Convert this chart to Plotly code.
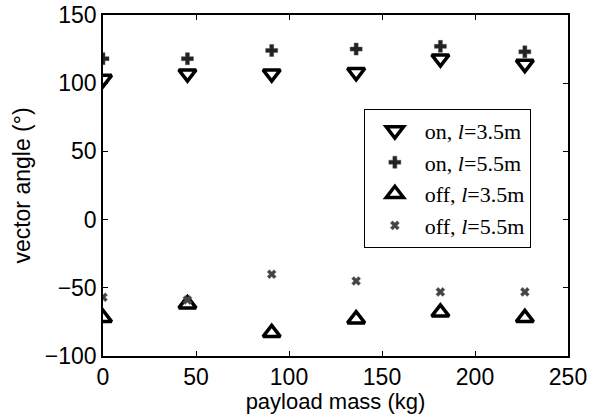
import plotly.graph_objects as go

# payload mass (kg): 0..500 lb in 100 lb steps
mass = [0, 45.4, 90.7, 136.1, 181.4, 226.8]

on_35 = [103, 107, 107, 108, 118, 114]
on_55 = [118, 118, 124, 125, 127, 123]
off_35 = [-72, -62, -83, -73, -68, -72]
off_55 = [-57, -59, -40, -45, -53, -53]

names = ["on, <i>l</i>=3.5m", "on, <i>l</i>=5.5m", "off, <i>l</i>=3.5m", "off, <i>l</i>=5.5m"]
x_ticks = [0, 50, 100, 150, 200, 250]
y_ticks = [-100, -50, 0, 50, 100, 150]

fig = go.Figure()
fig.add_trace(go.Scatter(x=mass, y=on_35, mode="markers", name=names[0],
                         marker=dict(symbol="triangle-down-open", size=15, color="black",
                                     line=dict(width=3.5, color="black"))))
fig.add_trace(go.Scatter(x=mass, y=on_55, mode="markers", name=names[1],
                         marker=dict(symbol="cross", size=10, color="#222",
                                     line=dict(width=0.5, color="#555"))))
fig.add_trace(go.Scatter(x=mass, y=off_35, mode="markers", name=names[2],
                         marker=dict(symbol="triangle-up-open", size=15, color="black",
                                     line=dict(width=3.5, color="black"))))
fig.add_trace(go.Scatter(x=mass, y=off_55, mode="markers", name=names[3],
                         marker=dict(symbol="x", size=8, color="#444",
                                     line=dict(width=0.5, color="#666"))))

axis_common = dict(showgrid=False, zeroline=False, showline=True, linecolor="black",
                   linewidth=1.5, mirror="ticks", ticks="inside", ticklen=5,
                   automargin=False, tickcolor="black",
                   tickfont=dict(family="Liberation Sans", size=23, color="black"))

fig.update_layout(
    width=603, height=414,
    margin=dict(l=103, r=35, t=15, b=58),
    paper_bgcolor="white", plot_bgcolor="white",
    xaxis=dict(range=[0, 250], tickvals=x_ticks, ticklabelstandoff=0,
               title=dict(text="payload mass (kg)", standoff=0,
                          font=dict(family="Liberation Sans", size=22, color="black")),
               **axis_common),
    yaxis=dict(range=[-100, 150], tickvals=y_ticks, ticklabelstandoff=0,
               title=dict(text="vector angle (°)", standoff=8,
                          font=dict(family="Liberation Sans", size=23, color="black")),
               **axis_common),
    legend=dict(x=0.561, y=0.725, xanchor="left", yanchor="top",
                bgcolor="white", bordercolor="black", borderwidth=1,
                font=dict(family="Liberation Serif", size=22, color="black"),
                itemwidth=50, entrywidth=188, tracegroupgap=0),
    showlegend=True,
)

fig.write_html("out.html")
